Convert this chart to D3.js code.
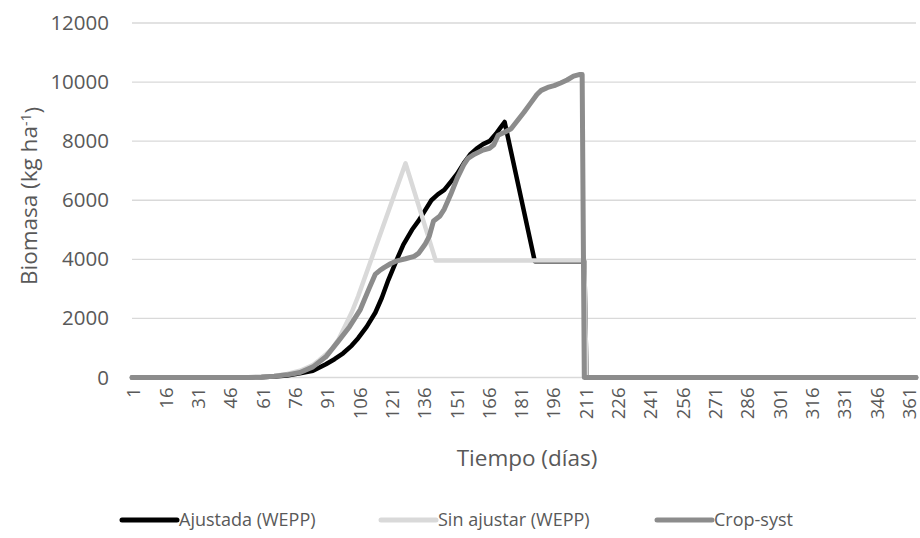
<!DOCTYPE html>
<html>
<head>
<meta charset="utf-8">
<script src="https://cdn.jsdelivr.net/npm/d3@7"></script>
<style>
  html, body { margin: 0; padding: 0; background: #fff; }
  svg { display: block; font-family: "Open Sans", "DejaVu Sans", sans-serif; }
</style>
</head>
<body>
<svg id="chart" width="920" height="538"></svg>
<script>
// Eje X: días del año (categorías) y etiquetas cada 15 días
const dias = d3.range(1, 366);
const etiquetasX = [1, 16, 31, 46, 61, 76, 91, 106, 121, 136, 151, 166, 181, 196, 211,
  226, 241, 256, 271, 286, 301, 316, 331, 346, 361];
const ticksY = [0, 2000, 4000, 6000, 8000, 10000, 12000];

// Ajustada (WEPP): días y biomasa (kg/ha)
const ajustadaDias = [1, 55, 61, 67, 73, 79, 85, 91, 95, 99, 103, 106, 110, 114, 117, 120,
  124, 127, 131, 134, 137, 140, 143, 146, 149, 152, 155, 158, 161, 164, 167, 170, 172, 174,
  188, 211, 212, 365];
const ajustada = [0, 0, 10, 30, 70, 140, 230, 450, 620, 820, 1080, 1330, 1720, 2200, 2700, 3300,
  4000, 4500, 5000, 5300, 5650, 6000, 6200, 6350, 6620, 6900, 7250, 7550, 7750, 7900, 8000, 8250, 8450, 8650,
  3935, 3935, 0, 0];

// Sin ajustar (WEPP)
const sinAjustarDias = [1, 50, 55, 61, 67, 73, 79, 85, 88, 91, 94, 97, 100, 103, 106, 128, 142, 211, 212, 365];
const sinAjustar = [0, 0, 5, 15, 50, 120, 230, 420, 590, 780, 980, 1300, 1750, 2200, 2750, 7250, 3960, 3960, 0, 0];

// Crop-syst
const cropSystDias = [1, 55, 61, 67, 73, 79, 85, 91, 97, 102, 107, 111, 114, 116, 118, 121, 124, 128,
  132, 134, 137, 139, 141, 144, 146, 149, 152, 155, 157, 160, 164, 167, 169, 171, 174, 177, 180, 183,
  186, 189, 191, 194, 197, 200, 203, 206, 209, 210, 211, 365];
const cropSyst = [0, 0, 15, 40, 90, 170, 360, 700, 1250, 1720, 2300, 3000, 3500, 3620, 3720, 3850, 3950, 4020,
  4100, 4200, 4500, 4780, 5300, 5470, 5700, 6200, 6750, 7200, 7420, 7560, 7700, 7760, 7880, 8200, 8300, 8420, 8700, 8980,
  9280, 9580, 9720, 9820, 9880, 9970, 10070, 10200, 10260, 10260, 0, 0];

const series = [
  { nombre: "Ajustada (WEPP)", dias: ajustadaDias, valores: ajustada, color: "#000000", ancho: 4.5 },
  { nombre: "Sin ajustar (WEPP)", dias: sinAjustarDias, valores: sinAjustar, color: "#d9d9d9", ancho: 4.5 },
  { nombre: "Crop-syst", dias: cropSystDias, valores: cropSyst, color: "#8c8c8c", ancho: 5 }
];

const svg = d3.select("#chart");
const margen = { left: 132, right: 4, top: 23, bottom: 160.5 };
const ancho = 920, alto = 538;

const x = d3.scalePoint().domain(dias).range([margen.left, ancho - margen.right]);
const y = d3.scaleLinear().domain([0, 12000]).range([alto - margen.bottom, margen.top]);

const colorTexto = "#595959";

// Líneas de cuadrícula
svg.append("g")
  .selectAll("line")
  .data(ticksY)
  .join("line")
  .attr("x1", margen.left)
  .attr("x2", ancho - margen.right)
  .attr("y1", d => y(d))
  .attr("y2", d => y(d))
  .attr("stroke", "#d9d9d9")
  .attr("stroke-width", 1.3);

// Eje Y
const ejeY = svg.append("g")
  .attr("transform", `translate(${margen.left},0)`)
  .call(d3.axisLeft(y).tickValues(ticksY).tickSize(0).tickPadding(23).tickFormat(d3.format("d")));
ejeY.select(".domain").remove();
ejeY.selectAll("text")
  .attr("fill", colorTexto)
  .style("font-size", "20.5px")
  .style("font-family", "\"Open Sans\", sans-serif");

// Eje X
const ejeX = svg.append("g")
  .attr("transform", `translate(0,${y(0)})`)
  .call(d3.axisBottom(x).tickValues(etiquetasX).tickSize(0));
ejeX.select(".domain").remove();
ejeX.selectAll("text")
  .attr("fill", colorTexto)
  .style("font-size", "18.5px")
  .style("font-family", "\"Open Sans\", sans-serif")
  .attr("text-anchor", "end")
  .attr("transform", "rotate(-90)")
  .attr("x", -10)
  .attr("y", 0)
  .attr("dy", "0.43em");

// Series
const linea = d3.line()
  .x(d => x(d[0]))
  .y(d => y(d[1]));

svg.append("g")
  .selectAll("path")
  .data(series)
  .join("path")
  .attr("d", s => linea(s.dias.map((d, i) => [d, s.valores[i]])))
  .attr("fill", "none")
  .attr("stroke", s => s.color)
  .attr("stroke-width", s => s.ancho)
  .attr("stroke-linejoin", "round")
  .attr("stroke-linecap", "round");

// Títulos de ejes
svg.append("text")
  .attr("x", 527)
  .attr("y", 466)
  .attr("text-anchor", "middle")
  .attr("fill", colorTexto)
  .style("font-size", "22.5px")
  .text("Tiempo (días)");

const tituloY = svg.append("text")
  .attr("transform", "translate(37,196) rotate(-90)")
  .attr("text-anchor", "middle")
  .attr("fill", colorTexto)
  .style("font-size", "22.5px");
tituloY.append("tspan").text("Biomasa (kg ha");
tituloY.append("tspan").attr("dy", "-0.45em").style("font-size", "14px").text("-1");
tituloY.append("tspan").attr("dy", "0.45em").text(")");

// Leyenda
const leyendaX = [122, 381, 657];
const leyenda = svg.append("g")
  .selectAll("g")
  .data(series)
  .join("g")
  .attr("transform", (s, i) => `translate(${leyendaX[i]},520)`);
leyenda.append("line")
  .attr("x1", 0).attr("x2", 55)
  .attr("stroke", s => s.color)
  .attr("stroke-width", 5)
  .attr("stroke-linecap", "round");
leyenda.append("text")
  .attr("x", 57)
  .attr("dy", "0.35em")
  .attr("fill", colorTexto)
  .style("font-size", "18px")
  .text(s => s.nombre);
</script>
</body>
</html>
